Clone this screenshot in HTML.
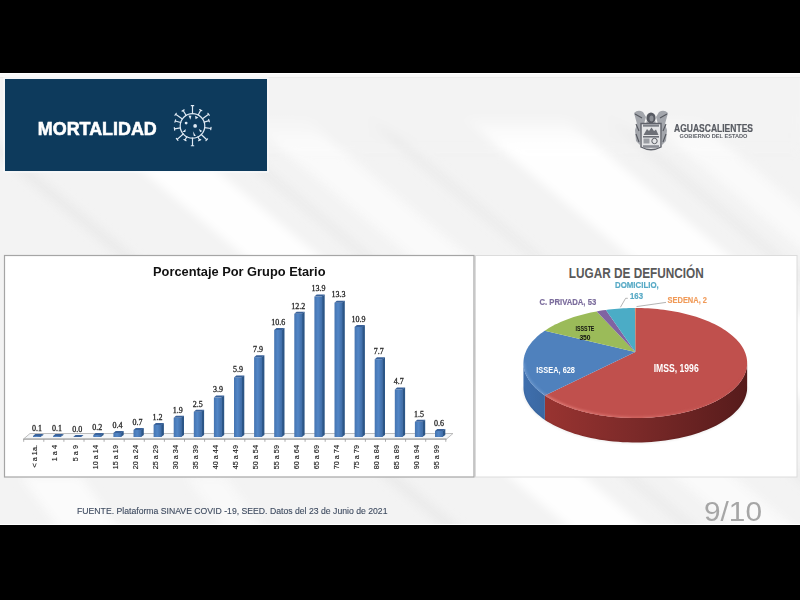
<!DOCTYPE html>
<html><head><meta charset="utf-8">
<style>
html,body{margin:0;padding:0;background:#000;width:800px;height:600px;overflow:hidden}
svg{position:absolute;left:0;top:0;display:block}
text{font-family:"Liberation Sans",sans-serif}
.ser text{font-family:"Liberation Serif",serif}
</style></head>
<body>
<svg width="800" height="600" viewBox="0 0 800 600">
<defs>
<linearGradient id="gf" x1="0" x2="1" y1="0" y2="0">
<stop offset="0" stop-color="#4574b0"/><stop offset="0.45" stop-color="#5286c6"/><stop offset="1" stop-color="#3f6ca6"/>
</linearGradient>
<linearGradient id="bg" x1="0" y1="0" x2="1" y2="0">
<stop offset="0" stop-color="#f1f1f1"/><stop offset="1" stop-color="#f3f3f3"/>
</linearGradient>
<filter id="bl" x="-10%" y="-10%" width="120%" height="120%"><feGaussianBlur stdDeviation="5"/></filter>
<clipPath id="cl"><rect x="0" y="78" width="800" height="446"/></clipPath>
<linearGradient id="fadeTop" x1="0" y1="0" x2="0" y2="1"><stop offset="0" stop-color="#f3f3f3" stop-opacity="1"/><stop offset="0.7" stop-color="#f3f3f3" stop-opacity="1"/><stop offset="1" stop-color="#f3f3f3" stop-opacity="0"/></linearGradient>
<linearGradient id="sr" gradientUnits="userSpaceOnUse" x1="540" y1="0" x2="748" y2="0">
<stop offset="0" stop-color="#9a3431"/><stop offset="0.45" stop-color="#7c2a29"/><stop offset="1" stop-color="#561b1b"/></linearGradient>
<linearGradient id="sb" gradientUnits="userSpaceOnUse" x1="522" y1="0" x2="548" y2="0">
<stop offset="0" stop-color="#3f6fae"/><stop offset="1" stop-color="#3a67a0"/></linearGradient>
<linearGradient id="rimg" gradientUnits="userSpaceOnUse" x1="522" y1="0" x2="748" y2="0">
<stop offset="0" stop-color="#7aa3d6" stop-opacity="0.6"/><stop offset="0.1" stop-color="#7aa3d6" stop-opacity="0.6"/><stop offset="0.11" stop-color="#e27d78" stop-opacity="0.9"/><stop offset="0.6" stop-color="#d66a66" stop-opacity="0.7"/><stop offset="1" stop-color="#c0504d" stop-opacity="0.2"/></linearGradient>
<filter id="bl1" x="-5%" y="-20%" width="110%" height="140%"><feGaussianBlur stdDeviation="0.8"/></filter>
</defs>
<!-- slide -->
<rect x="0" y="73" width="800" height="452" fill="#f3f3f3"/>
<g filter="url(#bl)" clip-path="url(#cl)">
<rect x="0" y="73" width="800" height="80" fill="#f3f3f3"/>
<path d="M-116.0 60 L-102.0 60 L474.0 540 L460.0 540Z" fill="#e6e6e6" opacity="0.7"/>
<path d="M9.0 60 L84.0 60 L660.0 540 L585.0 540Z" fill="#ffffff" opacity="0.9"/>
<path d="M124.0 60 L136.0 60 L712.0 540 L700.0 540Z" fill="#e6e6e6" opacity="0.6"/>
<path d="M174.0 60 L234.0 60 L810.0 540 L750.0 540Z" fill="#fbfbfb" opacity="0.8"/>
<path d="M294.0 60 L306.0 60 L882.0 540 L870.0 540Z" fill="#e6e6e6" opacity="0.6"/>
<path d="M394.0 60 L494.0 60 L1070.0 540 L970.0 540Z" fill="#ffffff" opacity="0.9"/>
<path d="M534.0 60 L546.0 60 L1122.0 540 L1110.0 540Z" fill="#e6e6e6" opacity="0.6"/>
<path d="M574.0 60 L624.0 60 L1200.0 540 L1150.0 540Z" fill="#fbfbfb" opacity="0.8"/>
<path d="M20 476 L80 476 L120 530 L60 530Z" fill="#fcfcfc" opacity="0.9"/>
<path d="M185 476 L225 476 L265 530 L225 530Z" fill="#fafafa" opacity="0.8"/>
<rect x="0" y="60" width="800" height="80" fill="url(#fadeTop)"/>
</g>
<rect x="0" y="73" width="800" height="1" fill="#ffffff"/>
<rect x="0" y="74" width="800" height="3" fill="#f9f9f9"/>
<rect x="0" y="77" width="800" height="1" fill="#ececec"/>
<rect x="0" y="524" width="800" height="1" fill="#ffffff"/>
<!-- header -->
<rect x="4" y="78" width="264" height="94" fill="none" stroke="#f9fbfd" stroke-width="1"/>
<rect x="5" y="79" width="262" height="92" fill="#0d3a5c"/>
<text x="37.8" y="134.5" font-size="19" font-weight="bold" fill="#fff" stroke="#fff" stroke-width="0.6" textLength="119" lengthAdjust="spacingAndGlyphs">MORTALIDAD</text>
<!-- virus -->
<g stroke="#dfe9f3" stroke-width="1.2" fill="none" stroke-linecap="round">
<circle cx="192.5" cy="125.9" r="12.3"/>
<path d="M192.50 113.60L192.51 105.63M193.71 105.63L191.31 105.63M198.20 115.00L200.76 110.13M201.82 110.68L199.69 109.57M202.47 118.70L208.63 114.25M209.34 115.23L207.93 113.28M204.22 122.16L209.01 120.63M209.37 121.77L208.64 119.49M204.68 127.63L210.89 128.51M210.72 129.69L211.05 127.32M201.32 134.47L206.76 139.76M205.92 140.62L207.60 138.90M198.01 136.90L199.63 140.13M198.56 140.67L200.71 139.60M192.50 138.20L192.51 145.76M191.31 145.76L193.71 145.76M186.77 136.78L185.00 140.13M183.94 139.58L186.07 140.69M183.25 134.01L177.13 139.38M176.34 138.48L177.92 140.29M180.37 127.91L174.50 128.88M174.31 127.70L174.70 130.07M180.67 122.54L175.25 121.00M175.58 119.85L174.92 122.16M182.38 118.91L175.63 114.25M176.31 113.27L174.94 115.24M186.11 115.39L183.13 110.50M184.15 109.88L182.10 111.13"/>
</g>
<g fill="#dfe9f3">
<circle cx="186.13" cy="123.11" r="1.45"/>
<circle cx="195.13" cy="125.88" r="1.85"/>
<path d="M188.38 115.38L191.38 115.75L190.41 119.65Z"/>
<path d="M195.13 115.75L198.36 117.40L195.51 119.35Z"/>
<path d="M182.38 131.88L185.75 128.88L185.38 131.88Z"/>
<path d="M198.88 128.88L202.26 130.91L200.16 132.26Z"/>
<path d="M192.88 131.36L195.88 136.01L193.86 136.01Z"/>
</g>
<!-- logo -->
<g>
<path d="M634 113 Q638 109 643 112 L646 117 L644 124 L641 128 L640 145 L636 141 L635 130 L637 124 Z" fill="#a3a6ac"/>
<path d="M668 113 Q664 109 659 112 L656 117 L658 124 L661 128 L662 145 L666 141 L667 130 L665 124 Z" fill="#a3a6ac"/>
<path d="M635 114 L642 118 M667 114 L660 118 M636 124 L639 131 M666 124 L663 131 M636 134 L639 142 M666 134 L663 142" stroke="#55585f" stroke-width="1.1" fill="none"/>
<ellipse cx="651" cy="118" rx="4.6" ry="5.6" fill="#575a62"/><ellipse cx="651.5" cy="118.5" rx="2" ry="3" fill="#8d9096"/>
<path d="M646.5 121 Q651 126 655.5 121 L655.5 124 L646.5 124Z" fill="#9a9da3"/>
<path d="M641 123.5 H661 V147 Q651 152.5 641 147Z" fill="#e4e5e7" stroke="#5f626a" stroke-width="1.4"/>
<rect x="643" y="124.5" width="16" height="2.2" fill="#7d8087"/>
<path d="M643.5 135 L647 129 L649 131 L651.5 127.5 L654 131 L656 129.5 L658.5 135Z" fill="#6d7077"/>
<rect x="643" y="136" width="16" height="1.6" fill="#6d7077"/>
<rect x="643.5" y="138.5" width="6" height="5" fill="#9a9da3"/>
<circle cx="654.5" cy="141" r="2.7" fill="none" stroke="#5a5d64" stroke-width="1"/>
<rect x="643" y="145.2" width="16" height="2.6" fill="#8a8d94"/>
</g>
<text x="674" y="131.6" font-size="10" font-weight="bold" fill="#575a61" stroke="#575a61" stroke-width="0.2" textLength="79" lengthAdjust="spacingAndGlyphs">AGUASCALIENTES</text>
<text x="679.6" y="138.4" font-size="6" font-weight="bold" fill="#5c5f66" textLength="67.8" lengthAdjust="spacingAndGlyphs">GOBIERNO DEL ESTADO</text>

<!-- bar chart panel -->
<rect x="4.5" y="255.5" width="469.5" height="221.5" fill="#fff" stroke="#a5a5a5" stroke-width="1.2"/>
<text x="153" y="276" font-size="13" font-weight="bold" fill="#111" textLength="172.5" lengthAdjust="spacingAndGlyphs">Porcentaje Por Grupo Etario</text>
<!-- floor -->
<path d="M23.5 439 L446.5 439 L453 433.5 L30 433.5Z" fill="#f4f6f8" stroke="#b7b7b7" stroke-width="0.9"/>
<path d="M23.5 439.2 H446.5" stroke="#a9a9a9" stroke-width="1.3"/>
<g stroke="#9a9a9a" stroke-width="0.8">
<path d="M23.70 439V441.8 M43.80 439V441.8 M63.90 439V441.8 M84.00 439V441.8 M104.10 439V441.8 M124.20 439V441.8 M144.30 439V441.8 M164.40 439V441.8 M184.50 439V441.8 M204.60 439V441.8 M224.70 439V441.8 M244.80 439V441.8 M264.90 439V441.8 M285.00 439V441.8 M305.10 439V441.8 M325.20 439V441.8 M345.30 439V441.8 M365.40 439V441.8 M385.50 439V441.8 M405.60 439V441.8 M425.70 439V441.8 M445.80 439V441.8"/>
</g>
<path d="M40.40 435.99 L43.30 433.99 L43.30 435.00 L40.40 437.00Z" fill="#2c5687"/>
<rect x="33.00" y="435.99" width="8.0" height="1.01" fill="url(#gf)"/>
<path d="M33.00 435.99 L35.30 433.99 L43.30 433.99 L41.00 435.99Z" fill="#3a629a"/>
<path d="M60.50 435.99 L63.40 433.99 L63.40 435.00 L60.50 437.00Z" fill="#2c5687"/>
<rect x="53.10" y="435.99" width="8.0" height="1.01" fill="url(#gf)"/>
<path d="M53.10 435.99 L55.40 433.99 L63.40 433.99 L61.10 435.99Z" fill="#3a629a"/>
<path d="M80.60 437.00 L83.50 435.00 L83.50 435.00 L80.60 437.00Z" fill="#2c5687"/>
<rect x="73.20" y="437.00" width="8.0" height="0.00" fill="url(#gf)"/>
<path d="M73.20 437.00 L75.50 435.00 L83.50 435.00 L81.20 437.00Z" fill="#3a629a"/>
<path d="M100.70 434.98 L103.60 432.98 L103.60 435.00 L100.70 437.00Z" fill="#2c5687"/>
<rect x="93.30" y="434.98" width="8.0" height="2.02" fill="url(#gf)"/>
<path d="M93.30 434.98 L95.60 432.98 L103.60 432.98 L101.30 434.98Z" fill="#3a629a"/>
<path d="M120.80 432.96 L123.70 430.96 L123.70 435.00 L120.80 437.00Z" fill="#2c5687"/>
<rect x="113.40" y="432.96" width="8.0" height="4.04" fill="url(#gf)"/>
<path d="M113.40 432.96 L115.70 430.96 L123.70 430.96 L121.40 432.96Z" fill="#3a629a"/>
<path d="M140.90 429.93 L143.80 427.93 L143.80 435.00 L140.90 437.00Z" fill="#2c5687"/>
<rect x="133.50" y="429.93" width="8.0" height="7.07" fill="url(#gf)"/>
<path d="M133.50 429.93 L135.80 427.93 L143.80 427.93 L141.50 429.93Z" fill="#3a629a"/>
<path d="M161.00 424.88 L163.90 422.88 L163.90 435.00 L161.00 437.00Z" fill="#2c5687"/>
<rect x="153.60" y="424.88" width="8.0" height="12.12" fill="url(#gf)"/>
<path d="M153.60 424.88 L155.90 422.88 L163.90 422.88 L161.60 424.88Z" fill="#3a629a"/>
<path d="M181.10 417.81 L184.00 415.81 L184.00 435.00 L181.10 437.00Z" fill="#2c5687"/>
<rect x="173.70" y="417.81" width="8.0" height="19.19" fill="url(#gf)"/>
<path d="M173.70 417.81 L176.00 415.81 L184.00 415.81 L181.70 417.81Z" fill="#3a629a"/>
<path d="M201.20 411.75 L204.10 409.75 L204.10 435.00 L201.20 437.00Z" fill="#2c5687"/>
<rect x="193.80" y="411.75" width="8.0" height="25.25" fill="url(#gf)"/>
<path d="M193.80 411.75 L196.10 409.75 L204.10 409.75 L201.80 411.75Z" fill="#3a629a"/>
<path d="M221.30 397.61 L224.20 395.61 L224.20 435.00 L221.30 437.00Z" fill="#2c5687"/>
<rect x="213.90" y="397.61" width="8.0" height="39.39" fill="url(#gf)"/>
<path d="M213.90 397.61 L216.20 395.61 L224.20 395.61 L221.90 397.61Z" fill="#3a629a"/>
<path d="M241.40 377.41 L244.30 375.41 L244.30 435.00 L241.40 437.00Z" fill="#2c5687"/>
<rect x="234.00" y="377.41" width="8.0" height="59.59" fill="url(#gf)"/>
<path d="M234.00 377.41 L236.30 375.41 L244.30 375.41 L242.00 377.41Z" fill="#3a629a"/>
<path d="M261.50 357.21 L264.40 355.21 L264.40 435.00 L261.50 437.00Z" fill="#2c5687"/>
<rect x="254.10" y="357.21" width="8.0" height="79.79" fill="url(#gf)"/>
<path d="M254.10 357.21 L256.40 355.21 L264.40 355.21 L262.10 357.21Z" fill="#3a629a"/>
<path d="M281.60 329.94 L284.50 327.94 L284.50 435.00 L281.60 437.00Z" fill="#2c5687"/>
<rect x="274.20" y="329.94" width="8.0" height="107.06" fill="url(#gf)"/>
<path d="M274.20 329.94 L276.50 327.94 L284.50 327.94 L282.20 329.94Z" fill="#3a629a"/>
<path d="M301.70 313.78 L304.60 311.78 L304.60 435.00 L301.70 437.00Z" fill="#2c5687"/>
<rect x="294.30" y="313.78" width="8.0" height="123.22" fill="url(#gf)"/>
<path d="M294.30 313.78 L296.60 311.78 L304.60 311.78 L302.30 313.78Z" fill="#3a629a"/>
<path d="M321.80 296.61 L324.70 294.61 L324.70 435.00 L321.80 437.00Z" fill="#2c5687"/>
<rect x="314.40" y="296.61" width="8.0" height="140.39" fill="url(#gf)"/>
<path d="M314.40 296.61 L316.70 294.61 L324.70 294.61 L322.40 296.61Z" fill="#3a629a"/>
<path d="M341.90 302.67 L344.80 300.67 L344.80 435.00 L341.90 437.00Z" fill="#2c5687"/>
<rect x="334.50" y="302.67" width="8.0" height="134.33" fill="url(#gf)"/>
<path d="M334.50 302.67 L336.80 300.67 L344.80 300.67 L342.50 302.67Z" fill="#3a629a"/>
<path d="M362.00 326.91 L364.90 324.91 L364.90 435.00 L362.00 437.00Z" fill="#2c5687"/>
<rect x="354.60" y="326.91" width="8.0" height="110.09" fill="url(#gf)"/>
<path d="M354.60 326.91 L356.90 324.91 L364.90 324.91 L362.60 326.91Z" fill="#3a629a"/>
<path d="M382.10 359.23 L385.00 357.23 L385.00 435.00 L382.10 437.00Z" fill="#2c5687"/>
<rect x="374.70" y="359.23" width="8.0" height="77.77" fill="url(#gf)"/>
<path d="M374.70 359.23 L377.00 357.23 L385.00 357.23 L382.70 359.23Z" fill="#3a629a"/>
<path d="M402.20 389.53 L405.10 387.53 L405.10 435.00 L402.20 437.00Z" fill="#2c5687"/>
<rect x="394.80" y="389.53" width="8.0" height="47.47" fill="url(#gf)"/>
<path d="M394.80 389.53 L397.10 387.53 L405.10 387.53 L402.80 389.53Z" fill="#3a629a"/>
<path d="M422.30 421.85 L425.20 419.85 L425.20 435.00 L422.30 437.00Z" fill="#2c5687"/>
<rect x="414.90" y="421.85" width="8.0" height="15.15" fill="url(#gf)"/>
<path d="M414.90 421.85 L417.20 419.85 L425.20 419.85 L422.90 421.85Z" fill="#3a629a"/>
<path d="M442.40 430.94 L445.30 428.94 L445.30 435.00 L442.40 437.00Z" fill="#2c5687"/>
<rect x="435.00" y="430.94" width="8.0" height="6.06" fill="url(#gf)"/>
<path d="M435.00 430.94 L437.30 428.94 L445.30 428.94 L443.00 430.94Z" fill="#3a629a"/>
<g class="ser" font-size="8" fill="#2a2a2a" text-anchor="middle" stroke="#2a2a2a" stroke-width="0.3">
<text x="37.00" y="430.79">0.1</text>
<text x="57.10" y="430.79">0.1</text>
<text x="77.20" y="431.80">0.0</text>
<text x="97.30" y="429.78">0.2</text>
<text x="117.40" y="427.76">0.4</text>
<text x="137.50" y="424.73">0.7</text>
<text x="157.60" y="419.68">1.2</text>
<text x="177.70" y="412.61">1.9</text>
<text x="197.80" y="406.55">2.5</text>
<text x="217.90" y="392.41">3.9</text>
<text x="238.00" y="372.21">5.9</text>
<text x="258.10" y="352.01">7.9</text>
<text x="278.20" y="324.74">10.6</text>
<text x="298.30" y="308.58">12.2</text>
<text x="318.40" y="291.41">13.9</text>
<text x="338.50" y="297.47">13.3</text>
<text x="358.60" y="321.71">10.9</text>
<text x="378.70" y="354.03">7.7</text>
<text x="398.80" y="384.33">4.7</text>
<text x="418.90" y="416.65">1.5</text>
<text x="439.00" y="425.74">0.6</text>
</g>
<g font-size="7.3" fill="#1e1e1e" text-anchor="end" stroke="#1e1e1e" stroke-width="0.15">
<text transform="translate(37.30,445) rotate(-90)">&lt; a 1a.</text>
<text transform="translate(57.40,445) rotate(-90)">1 a 4</text>
<text transform="translate(77.50,445) rotate(-90)">5 a 9</text>
<text transform="translate(97.60,445) rotate(-90)">10 a 14</text>
<text transform="translate(117.70,445) rotate(-90)">15 a 19</text>
<text transform="translate(137.80,445) rotate(-90)">20 a 24</text>
<text transform="translate(157.90,445) rotate(-90)">25 a 29</text>
<text transform="translate(178.00,445) rotate(-90)">30 a 34</text>
<text transform="translate(198.10,445) rotate(-90)">35 a 39</text>
<text transform="translate(218.20,445) rotate(-90)">40 a 44</text>
<text transform="translate(238.30,445) rotate(-90)">45 a 49</text>
<text transform="translate(258.40,445) rotate(-90)">50 a 54</text>
<text transform="translate(278.50,445) rotate(-90)">55 a 59</text>
<text transform="translate(298.60,445) rotate(-90)">60 a 64</text>
<text transform="translate(318.70,445) rotate(-90)">65 a 69</text>
<text transform="translate(338.80,445) rotate(-90)">70 a 74</text>
<text transform="translate(358.90,445) rotate(-90)">75 a 79</text>
<text transform="translate(379.00,445) rotate(-90)">80 a 84</text>
<text transform="translate(399.10,445) rotate(-90)">85 a 89</text>
<text transform="translate(419.20,445) rotate(-90)">90 a 94</text>
<text transform="translate(439.30,445) rotate(-90)">95 a 99</text>
</g>

<!-- pie panel -->
<rect x="475.5" y="255.5" width="321.5" height="221.5" fill="#fff" stroke="#dcdcdc" stroke-width="1"/>
<text x="568.8" y="277.5" font-size="14" font-weight="bold" fill="#595959" textLength="135" lengthAdjust="spacingAndGlyphs">LUGAR DE DEFUNCIÓN</text>
<path d="M747.16 362.96 L747.09 364.92 L746.88 366.89 L746.52 368.87 L746.01 370.86 L745.35 372.85 L744.54 374.84 L743.57 376.83 L742.44 378.81 L741.15 380.78 L739.70 382.75 L738.09 384.69 L736.32 386.62 L734.39 388.52 L732.29 390.40 L730.04 392.25 L727.62 394.06 L725.04 395.83 L722.31 397.56 L719.42 399.25 L716.38 400.89 L713.20 402.47 L709.86 404.00 L706.39 405.46 L702.78 406.86 L699.05 408.20 L695.18 409.45 L691.20 410.64 L687.11 411.74 L682.92 412.77 L678.62 413.71 L674.24 414.56 L669.78 415.32 L665.25 415.99 L660.65 416.57 L656.01 417.05 L651.32 417.43 L646.59 417.72 L641.84 417.91 L637.08 417.99 L632.31 417.98 L627.55 417.87 L622.81 417.66 L618.09 417.35 L613.41 416.94 L608.77 416.43 L604.19 415.83 L599.68 415.14 L595.24 414.35 L590.88 413.48 L586.61 412.52 L582.44 411.47 L578.37 410.35 L574.42 409.14 L570.59 407.86 L566.89 406.51 L563.31 405.10 L559.88 403.62 L556.58 402.08 L553.43 400.48 L550.43 398.83 L547.58 397.13 L544.89 395.39 L544.89 419.89 L547.58 421.63 L550.43 423.33 L553.43 424.98 L556.58 426.58 L559.88 428.12 L563.31 429.60 L566.89 431.01 L570.59 432.36 L574.42 433.64 L578.37 434.85 L582.44 435.97 L586.61 437.02 L590.88 437.98 L595.24 438.85 L599.68 439.64 L604.19 440.33 L608.77 440.93 L613.41 441.44 L618.09 441.85 L622.81 442.16 L627.55 442.37 L632.31 442.48 L637.08 442.49 L641.84 442.41 L646.59 442.22 L651.32 441.93 L656.01 441.55 L660.65 441.07 L665.25 440.49 L669.78 439.82 L674.24 439.06 L678.62 438.21 L682.92 437.27 L687.11 436.24 L691.20 435.14 L695.18 433.95 L699.05 432.70 L702.78 431.36 L706.39 429.96 L709.86 428.50 L713.20 426.97 L716.38 425.39 L719.42 423.75 L722.31 422.06 L725.04 420.33 L727.62 418.56 L730.04 416.75 L732.29 414.90 L734.39 413.02 L736.32 411.12 L738.09 409.19 L739.70 407.25 L741.15 405.28 L742.44 403.31 L743.57 401.33 L744.54 399.34 L745.35 397.35 L746.01 395.36 L746.52 393.37 L746.88 391.39 L747.09 389.42 L747.16 387.46Z" fill="url(#sr)"/>
<path d="M544.89 395.39 L542.39 393.63 L540.04 391.83 L537.86 390.01 L535.82 388.15 L533.95 386.27 L532.23 384.37 L530.67 382.45 L529.27 380.52 L528.02 378.57 L526.92 376.62 L525.98 374.66 L525.19 372.70 L524.55 370.74 L524.06 368.79 L523.71 366.84 L523.51 364.89 L523.44 362.96 L523.44 387.46 L523.51 389.39 L523.71 391.34 L524.06 393.29 L524.55 395.24 L525.19 397.20 L525.98 399.16 L526.92 401.12 L528.02 403.07 L529.27 405.02 L530.67 406.95 L532.23 408.87 L533.95 410.77 L535.82 412.65 L537.86 414.51 L540.04 416.33 L542.39 418.13 L544.89 419.89Z" fill="url(#sb)"/>
<path d="M747.16 387.46 L747.09 389.39 L746.89 391.33 L746.54 393.28 L746.05 395.24 L745.41 397.19 L744.62 399.15 L743.68 401.11 L742.59 403.06 L741.34 405.01 L739.94 406.94 L738.38 408.86 L736.67 410.76 L734.80 412.64 L732.77 414.49 L730.58 416.31 L728.24 418.11 L725.74 419.86 L723.10 421.58 L720.30 423.25 L717.35 424.88 L714.26 426.46 L711.03 427.98 L707.66 429.44 L704.16 430.84 L700.53 432.18 L696.77 433.45 L692.90 434.65 L688.92 435.77 L684.84 436.81 L680.65 437.78 L676.38 438.66 L672.03 439.45 L667.60 440.16 L663.11 440.77 L658.56 441.30 L653.97 441.73 L649.33 442.07 L644.67 442.31 L639.99 442.45 L635.30 442.50 L630.61 442.45 L625.93 442.31 L621.27 442.07 L616.63 441.73 L612.04 441.30 L607.49 440.77 L603.00 440.16 L598.57 439.45 L594.22 438.66 L589.95 437.78 L585.76 436.81 L581.68 435.77 L577.70 434.65 L573.83 433.45 L570.07 432.18 L566.44 430.84 L562.94 429.44 L559.57 427.98 L556.34 426.46 L553.25 424.88 L550.30 423.25 L547.50 421.58 L544.86 419.86 L542.36 418.11 L540.02 416.31 L537.83 414.49 L535.80 412.64 L533.93 410.76 L532.22 408.86 L530.66 406.94 L529.26 405.01 L528.01 403.06 L526.92 401.11 L525.98 399.15 L525.19 397.19 L524.55 395.24 L524.06 393.28 L523.71 391.33 L523.51 389.39 L523.44 387.46" fill="none" stroke="#000" stroke-opacity="0.12" stroke-width="1.2" filter="url(#bl1)"/>
<path d="M635.30 352.00 L635.30 308.00 L638.48 308.02 L641.65 308.09 L644.82 308.20 L647.98 308.35 L651.14 308.55 L654.28 308.80 L657.42 309.09 L660.54 309.42 L663.65 309.80 L666.73 310.22 L669.80 310.68 L672.85 311.19 L675.87 311.74 L678.87 312.34 L681.84 312.99 L684.77 313.67 L687.68 314.40 L690.55 315.18 L693.38 315.99 L696.17 316.86 L698.92 317.76 L701.63 318.71 L704.28 319.70 L706.89 320.74 L709.45 321.82 L711.94 322.94 L714.39 324.10 L716.76 325.31 L719.08 326.56 L721.33 327.84 L723.50 329.17 L725.61 330.54 L727.63 331.95 L729.58 333.40 L731.45 334.89 L733.22 336.41 L734.91 337.98 L736.51 339.57 L738.00 341.21 L739.40 342.87 L740.70 344.57 L741.88 346.30 L742.96 348.07 L743.92 349.86 L744.76 351.67 L745.49 353.52 L746.08 355.39 L746.55 357.28 L746.89 359.19 L747.09 361.12 L747.16 363.06 L747.08 365.02 L746.87 366.99 L746.50 368.97 L745.98 370.95 L745.32 372.94 L744.50 374.93 L743.52 376.92 L742.39 378.90 L741.09 380.87 L739.64 382.83 L738.02 384.77 L736.25 386.70 L734.31 388.60 L732.21 390.47 L729.95 392.31 L727.53 394.12 L724.95 395.90 L722.21 397.63 L719.32 399.31 L716.28 400.94 L713.09 402.52 L709.75 404.05 L706.28 405.51 L702.67 406.91 L698.93 408.23 L695.07 409.49 L691.09 410.67 L687.00 411.77 L682.80 412.79 L678.51 413.73 L674.13 414.58 L669.67 415.34 L665.14 416.01 L660.55 416.58 L655.91 417.06 L651.22 417.44 L646.49 417.72 L641.75 417.91 L636.99 417.99 L632.23 417.98 L627.47 417.87 L622.73 417.65 L618.02 417.34 L613.34 416.93 L608.71 416.42 L604.13 415.82 L599.62 415.13 L595.19 414.34 L590.83 413.47 L586.57 412.51 L582.40 411.46 L578.34 410.34 L574.39 409.13 L570.57 407.85 L566.87 406.51 L563.30 405.09 L559.86 403.61 L556.57 402.07 L553.42 400.47 L550.42 398.82 L547.58 397.13 L544.89 395.39Z" fill="#c0504d"/>
<path d="M635.30 352.00 L544.89 395.39 L542.38 393.62 L540.04 391.83 L537.84 390.00 L535.81 388.14 L533.93 386.26 L532.21 384.35 L530.65 382.43 L529.25 380.49 L528.00 378.54 L526.91 376.59 L525.97 374.62 L525.18 372.66 L524.54 370.70 L524.05 368.74 L523.71 366.78 L523.50 364.84 L523.44 362.91 L523.51 360.99 L523.72 359.08 L524.06 357.20 L524.53 355.33 L525.13 353.49 L525.84 351.67 L526.67 349.87 L527.62 348.10 L528.68 346.36 L529.85 344.65 L531.12 342.97 L532.50 341.32 L533.97 339.71 L535.53 338.13 L537.19 336.58 L538.94 335.07 L540.77 333.60 L542.68 332.16 L544.67 330.76Z" fill="#4f81bd"/>
<path d="M635.30 352.00 L544.67 330.76 L546.74 329.40 L548.89 328.07 L551.10 326.79 L553.38 325.55 L555.73 324.34 L558.13 323.18 L560.60 322.06 L563.12 320.98 L565.69 319.95 L568.31 318.95 L570.98 318.00 L573.69 317.09 L576.44 316.23 L579.24 315.41 L582.07 314.63 L584.94 313.89 L587.84 313.20 L590.77 312.55 L593.73 311.94 L596.72 311.38Z" fill="#9bbb59"/>
<path d="M635.30 352.00 L596.72 311.38 L599.76 310.85 L602.82 310.37 L605.90 309.93Z" fill="#8064a2"/>
<path d="M635.30 352.00 L605.90 309.93 L608.76 309.57 L611.63 309.25 L614.52 308.96 L617.42 308.71 L620.32 308.50 L623.24 308.32 L626.16 308.18 L629.08 308.09 L632.01 308.02 L634.94 308.00Z" fill="#4bacc6"/>
<path d="M635.30 352.00 L634.94 308.00 L635.30 308.00Z" fill="#f79646"/>
<clipPath id="topclip"><path d="M635.30 308.00 L638.49 308.02 L641.67 308.09 L644.86 308.20 L648.03 308.36 L651.20 308.56 L654.36 308.80 L657.51 309.09 L660.64 309.43 L663.76 309.81 L666.86 310.23 L669.93 310.70 L672.99 311.22 L676.02 311.77 L679.03 312.38 L682.01 313.02 L684.96 313.72 L687.87 314.45 L690.75 315.23 L693.59 316.06 L696.39 316.93 L699.15 317.84 L701.86 318.80 L704.52 319.80 L707.14 320.84 L709.69 321.93 L712.20 323.06 L714.64 324.23 L717.02 325.44 L719.34 326.70 L721.59 328.00 L723.76 329.34 L725.87 330.72 L727.89 332.14 L729.84 333.60 L731.70 335.10 L733.47 336.63 L735.15 338.21 L736.74 339.82 L738.23 341.46 L739.61 343.14 L740.89 344.85 L742.07 346.59 L743.13 348.37 L744.07 350.17 L744.90 352.00 L745.60 353.86 L746.18 355.74 L746.63 357.64 L746.94 359.56 L747.12 361.50 L747.16 363.45 L747.05 365.42 L746.80 367.40 L746.40 369.39 L745.85 371.38 L745.15 373.38 L744.29 375.38 L743.27 377.37 L742.10 379.36 L740.76 381.33 L739.26 383.30 L737.60 385.24 L735.78 387.17 L733.79 389.07 L731.64 390.95 L729.33 392.79 L726.86 394.60 L724.23 396.36 L721.44 398.09 L718.50 399.77 L715.40 401.39 L712.16 402.96 L708.77 404.47 L705.24 405.92 L701.58 407.31 L697.79 408.62 L693.87 409.86 L689.84 411.02 L685.70 412.10 L681.46 413.10 L677.12 414.01 L672.70 414.83 L668.20 415.57 L663.63 416.21 L659.00 416.75 L654.32 417.20 L649.60 417.55 L644.85 417.80 L640.08 417.95 L635.30 418.00 L630.52 417.95 L625.75 417.80 L621.00 417.55 L616.28 417.20 L611.60 416.75 L606.97 416.21 L602.40 415.57 L597.90 414.83 L593.48 414.01 L589.14 413.10 L584.90 412.10 L580.76 411.02 L576.73 409.86 L572.81 408.62 L569.02 407.31 L565.36 405.92 L561.83 404.47 L558.44 402.96 L555.20 401.39 L552.10 399.77 L549.16 398.09 L546.37 396.36 L543.74 394.60 L541.27 392.79 L538.96 390.95 L536.81 389.07 L534.82 387.17 L533.00 385.24 L531.34 383.30 L529.84 381.33 L528.50 379.36 L527.33 377.37 L526.31 375.38 L525.45 373.38 L524.75 371.38 L524.20 369.39 L523.80 367.40 L523.55 365.42 L523.44 363.45 L523.48 361.50 L523.66 359.56 L523.97 357.64 L524.42 355.74 L525.00 353.86 L525.70 352.00 L526.53 350.17 L527.47 348.37 L528.53 346.59 L529.71 344.85 L530.99 343.14 L532.37 341.46 L533.86 339.82 L535.45 338.21 L537.13 336.63 L538.90 335.10 L540.76 333.60 L542.71 332.14 L544.73 330.72 L546.84 329.34 L549.01 328.00 L551.26 326.70 L553.58 325.44 L555.96 324.23 L558.40 323.06 L560.91 321.93 L563.46 320.84 L566.08 319.80 L568.74 318.80 L571.45 317.84 L574.21 316.93 L577.01 316.06 L579.85 315.23 L582.73 314.45 L585.64 313.72 L588.59 313.02 L591.57 312.38 L594.58 311.77 L597.61 311.22 L600.67 310.70 L603.74 310.23 L606.84 309.81 L609.96 309.43 L613.09 309.09 L616.24 308.80 L619.40 308.56 L622.57 308.36 L625.74 308.20 L628.93 308.09 L632.11 308.02Z"/></clipPath>
<g clip-path="url(#topclip)"><path d="M747.16 362.96 L747.09 364.89 L746.89 366.83 L746.54 368.78 L746.05 370.74 L745.41 372.69 L744.62 374.65 L743.68 376.61 L742.59 378.56 L741.34 380.51 L739.94 382.44 L738.38 384.36 L736.67 386.26 L734.80 388.14 L732.77 389.99 L730.58 391.81 L728.24 393.61 L725.74 395.36 L723.10 397.08 L720.30 398.75 L717.35 400.38 L714.26 401.96 L711.03 403.48 L707.66 404.94 L704.16 406.34 L700.53 407.68 L696.77 408.95 L692.90 410.15 L688.92 411.27 L684.84 412.31 L680.65 413.28 L676.38 414.16 L672.03 414.95 L667.60 415.66 L663.11 416.27 L658.56 416.80 L653.97 417.23 L649.33 417.57 L644.67 417.81 L639.99 417.95 L635.30 418.00 L630.61 417.95 L625.93 417.81 L621.27 417.57 L616.63 417.23 L612.04 416.80 L607.49 416.27 L603.00 415.66 L598.57 414.95 L594.22 414.16 L589.95 413.28 L585.76 412.31 L581.68 411.27 L577.70 410.15 L573.83 408.95 L570.07 407.68 L566.44 406.34 L562.94 404.94 L559.57 403.48 L556.34 401.96 L553.25 400.38 L550.30 398.75 L547.50 397.08 L544.86 395.36 L542.36 393.61 L540.02 391.81 L537.83 389.99 L535.80 388.14 L533.93 386.26 L532.22 384.36 L530.66 382.44 L529.26 380.51 L528.01 378.56 L526.92 376.61 L525.98 374.65 L525.19 372.69 L524.55 370.74 L524.06 368.78 L523.71 366.83 L523.51 364.89 L523.44 362.96" fill="none" stroke="url(#rimg)" stroke-width="3" filter="url(#bl1)"/></g>
<text x="615" y="287.7" font-size="9.5" font-weight="bold" fill="#56a9c5" stroke="#56a9c5" stroke-width="0.2" textLength="43.7" lengthAdjust="spacingAndGlyphs">DOMICILIO,</text>
<text x="630" y="299" font-size="9.5" font-weight="bold" fill="#56a9c5" stroke="#56a9c5" stroke-width="0.2" textLength="13" lengthAdjust="spacingAndGlyphs">163</text>
<text x="539.5" y="304.5" font-size="9.5" font-weight="bold" fill="#7b6c9c" stroke="#7b6c9c" stroke-width="0.2" textLength="56.7" lengthAdjust="spacingAndGlyphs">C. PRIVADA, 53</text>
<text x="667.5" y="303.4" font-size="9.5" font-weight="bold" fill="#f09a58" stroke="#f09a58" stroke-width="0.15" textLength="39.5" lengthAdjust="spacingAndGlyphs">SEDENA, 2</text>
<path d="M627.8 298.3 L625.6 298.3 L620.4 307.3 M666 302.4 L636.5 306.6" stroke="#a0a0a0" stroke-width="0.8" fill="none"/>
<text x="575.6" y="331" font-size="6.5" font-weight="bold" fill="#111" textLength="18.8" lengthAdjust="spacingAndGlyphs">ISSSTE</text>
<text x="579.4" y="340" font-size="6.5" font-weight="bold" fill="#111" textLength="11.2" lengthAdjust="spacingAndGlyphs">350</text>
<text x="536.3" y="372.8" font-size="8.5" font-weight="bold" fill="#fff" textLength="38.7" lengthAdjust="spacingAndGlyphs">ISSEA, 628</text>
<text x="653.7" y="372.2" font-size="10" font-weight="bold" fill="#fff" textLength="45" lengthAdjust="spacingAndGlyphs">IMSS, 1996</text>

<!-- footer -->
<text x="77" y="514" font-size="9.4" fill="#3d4a5f" stroke="#3d4a5f" stroke-width="0.12" textLength="310.5" lengthAdjust="spacingAndGlyphs">FUENTE. Plataforma SINAVE COVID -19, SEED. Datos del 23 de Junio de 2021</text>
<text x="704" y="521" font-size="28" fill="#a6a6a6" textLength="58" lengthAdjust="spacingAndGlyphs">9/10</text>
</svg>
</body></html>
